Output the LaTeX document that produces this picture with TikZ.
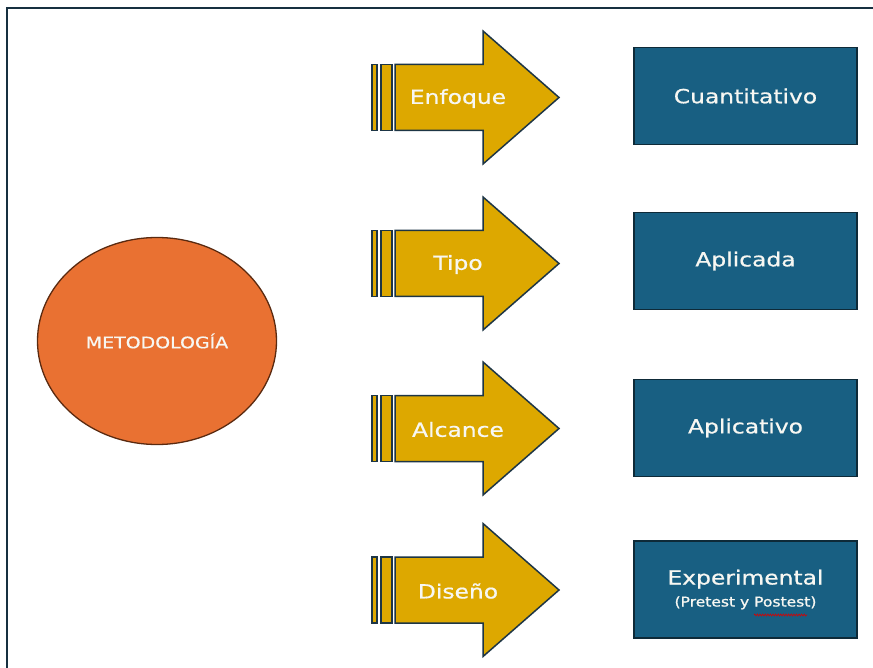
\documentclass[tikz,border=0pt]{standalone}
\usepackage{fontspec}
\setmainfont[FakeStretch=1.2, FakeBold=0.7]{DejaVu Sans}
\newfontfamily\subfont[FakeStretch=1.15, FakeBold=1.2]{DejaVu Sans}
\usetikzlibrary{shapes.geometric,decorations.pathmorphing}
\definecolor{frameC}{HTML}{173040}
\definecolor{boxC}{HTML}{185F82}
\definecolor{boxB}{HTML}{0E2A38}
\definecolor{arrC}{HTML}{DDA800}
\definecolor{arrB}{HTML}{1D3545}
\definecolor{ellC}{HTML}{E97132}
\definecolor{ellB}{HTML}{5A2A10}
\definecolor{txtC}{HTML}{F7F7F2}
\tikzset{
  resbox/.style={draw=boxB, line width=1.6pt, fill=boxC, minimum width=223pt, minimum height=97pt, inner sep=0pt, text=txtC, align=center, font=\fontsize{19.5}{24}\selectfont},
  arrbody/.style={draw=arrB, line width=1.5pt, fill=arrC, line join=miter},
  arrtext/.style={text=txtC, inner sep=0pt, font=\fontsize{19.5}{23}\selectfont},
}
\begin{document}
\begin{tikzpicture}[x=1pt,y=-1pt]
\useasboundingbox (0,0) rectangle (873,668);
\fill[white] (0,0) rectangle (873,668);
% frame
\draw[frameC, line width=2.8pt] (7,670) -- (7,8) -- (875,8);
% ellipse
\node[ellipse, draw=ellB, line width=1.3pt, fill=ellC, minimum width=239pt, minimum height=207pt, inner sep=0pt, text=txtC, font=\fontsize{15.8}{18}\selectfont] (met) at (157,341) {METODOLOGÍA};
% arrows
\foreach \c/\t/\n in {97.5/Enfoque/enf, 263.5/Tipo/tip, 428.5/Alcance/alc, 590/Diseño/dis}{
  \draw[arrbody] (372,\c-33) rectangle (377,\c+33);
  \draw[arrbody] (381,\c-33) rectangle (392,\c+33);
  \draw[arrbody] (395,\c-33) -- (483,\c-33) -- (483,\c-66.5) -- (559,\c) -- (483,\c+66.5) -- (483,\c+33) -- (395,\c+33) -- cycle;
  \node[arrtext] (\n) at (458,\c+1) {\t};
}
% boxes
\node[resbox] (cuan) at (745.5,96) {Cuantitativo};
\node[resbox] (apl) at (745.5,261) {Aplicada};
\node[resbox] (aplv) at (745.5,428) {Aplicativo};
\node[resbox] (exp) at (745.5,589.5) {Experimental\\[-2pt]{\subfont\fontsize{13.5}{16}\selectfont (Pretest y Postest)}};
% spell-check squiggle
\draw[red!85!black, line width=0.6pt, decorate, decoration={snake, amplitude=1pt, segment length=2.6pt}] (754,615) -- (807,615);
\end{tikzpicture}
\end{document}
